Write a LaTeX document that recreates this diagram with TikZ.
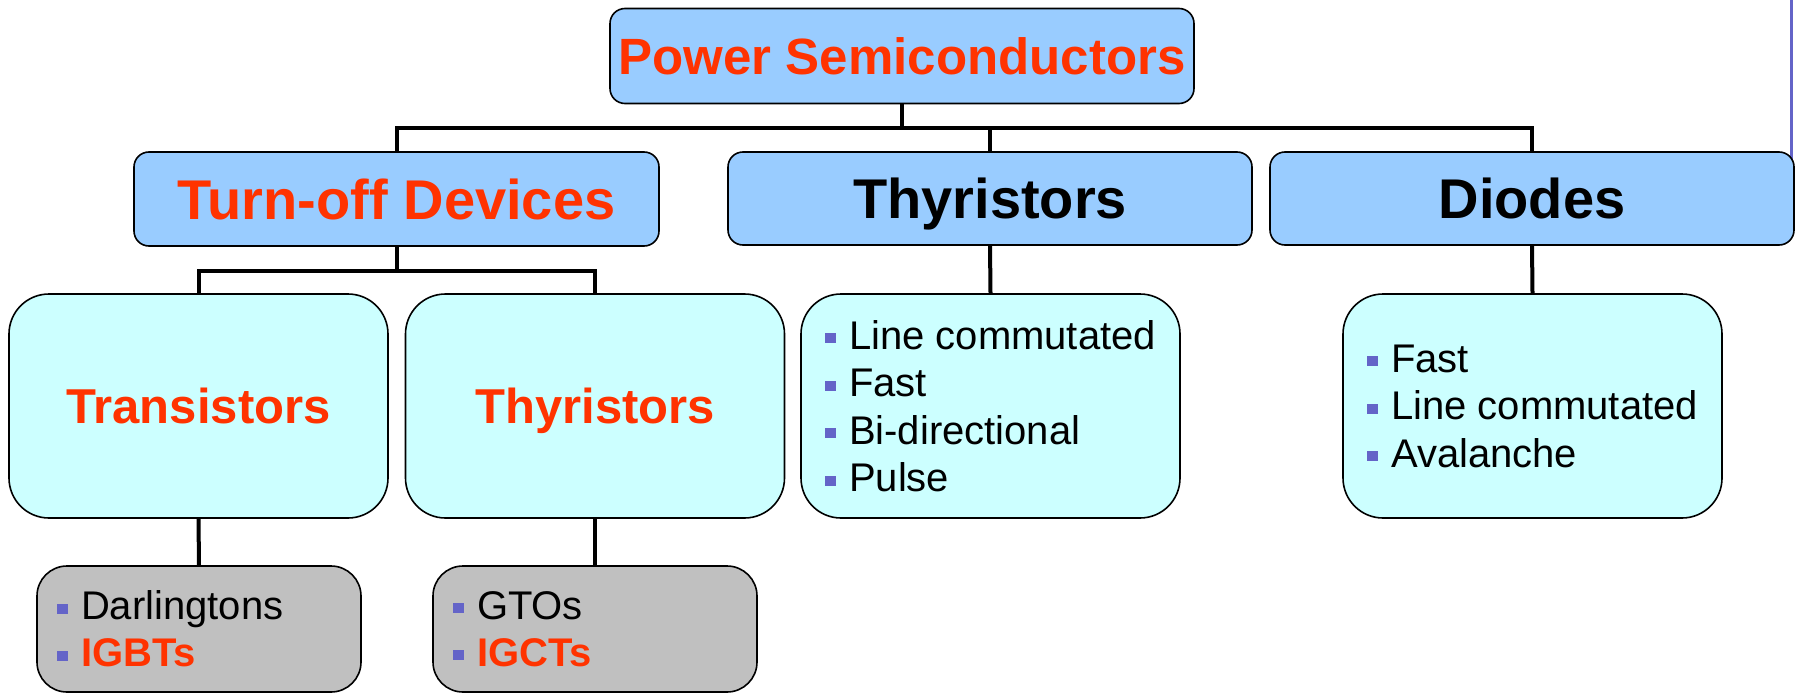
\documentclass[tikz,border=0pt]{standalone}
\usepackage{fontspec}
\setmainfont{Liberation Sans}
\definecolor{hdrblue}{HTML}{99CCFF}
\definecolor{subcyan}{HTML}{CCFFFF}
\definecolor{leafgray}{HTML}{C0C0C0}
\definecolor{accred}{HTML}{FF3300}
\definecolor{bulblue}{HTML}{6464C8}
% square list marker
\newcommand{\itm}{\textcolor{bulblue}{\rule[6pt]{11pt}{10pt}}\hspace{13pt}}
\tikzset{
  hdr/.style={draw=black, line width=1.6pt, fill=hdrblue, rounded corners=15pt,
    inner sep=0pt, minimum width=524pt, minimum height=93pt,
    text height=40pt, text depth=0pt,
    font=\bfseries\fontsize{56}{60}\selectfont},
  sub/.style={draw=black, line width=1.6pt, fill=subcyan, rounded corners=40pt,
    inner sep=0pt, minimum width=379pt, minimum height=224pt},
  subtitle/.style={sub, text=accred, text height=35pt, text depth=0pt,
    font=\bfseries\fontsize{49}{55}\selectfont},
  leaf/.style={draw=black, line width=1.6pt, fill=leafgray, rounded corners=30pt,
    inner xsep=20pt, inner ysep=0pt, text width=284pt, minimum height=126pt,
    align=left, font=\fontsize{40}{47}\selectfont},
  conn/.style={draw=black, line width=4pt},
  edgeline/.style={draw=bulblue, line width=3pt},
}
\begin{document}
\begin{tikzpicture}[x=1pt, y=-1pt]
\useasboundingbox (0,0) rectangle (1798,693);

% slide edge line at the right
\draw[edgeline] (1791,0) -- (1791,160);

% top level
\node[hdr, minimum width=584pt, minimum height=95pt, text=accred, text height=36.5pt,
      font=\bfseries\fontsize{51}{56}\selectfont] (ps) at (902,56) {Power Semiconductors};

% second level
\node[hdr, minimum width=525pt, minimum height=94pt, text=accred] (tod) at (396.5,199) {Turn-off Devices};
\node[hdr] (thy) at (990,198.5) {Thyristors};
\node[hdr] (dio) at (1532,198.5) {Diodes};

% third level
\node[subtitle] (tra) at (198.5,406) {Transistors};
\node[subtitle] (thy2) at (595,406) {Thyristors};
\node[sub, align=left, font=\fontsize{40}{47.5}\selectfont] (tl) at (990.5,406)
  {\itm Line commutated\\\itm Fast\\\itm Bi-directional\\\itm Pulse};
\node[sub, align=left, font=\fontsize{40}{47.5}\selectfont] (dl) at (1532.5,406)
  {\itm Fast\\\itm Line commutated\\\itm Avalanche};

% device families
\node[leaf] (dar) at (199,629) {\itm Darlingtons\\\itm\textcolor{accred}{\bfseries IGBTs}};
\node[leaf] (gto) at (595,629) {\itm GTOs\\\itm\textcolor{accred}{\bfseries IGCTs}};

% connectors
\draw[conn] (ps.south) -- ++(0,24) coordinate (hub);
\draw[conn] (tod.north) |- (hub) -| (dio.north);
\draw[conn] (thy.north) -- (thy.north |- hub);
\draw[conn] (tod.south) -- ++(0,24) coordinate (hub2);
\draw[conn] (tra.north) |- (hub2) -| (thy2.north);
\draw[conn] (thy.south) -- (tl.north);
\draw[conn] (dio.south) -- (dl.north);
\draw[conn] (tra.south) -- (dar.north);
\draw[conn] (thy2.south) -- (gto.north);
\end{tikzpicture}
\end{document}
